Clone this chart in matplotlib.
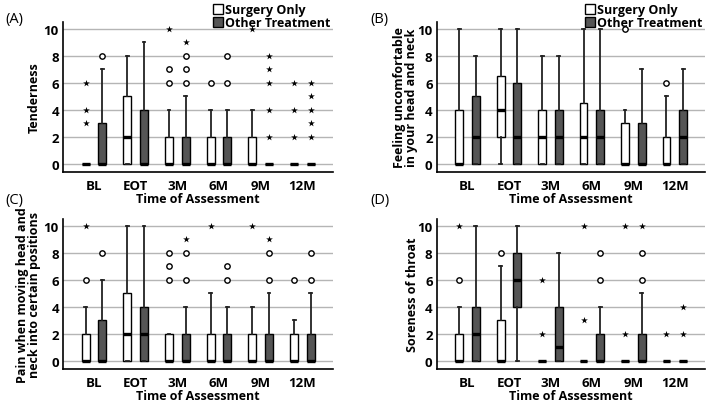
import matplotlib
matplotlib.use('Agg')
import matplotlib.pyplot as plt
from matplotlib.patches import Patch

plt.rcParams['font.family'] = ['Open Sans', 'DejaVu Sans']
plt.rcParams['font.weight'] = 'bold'

groups = ['BL', 'EOT', '3M', '6M', '9M', '12M']
yticks = [0, 2, 4, 6, 8, 10]

# box stats per group: (q1, median, q3, whisker low, whisker high)
a_surg = [(0, 0, 0, 0, 0), (0, 2, 5, 0, 8), (0, 0, 2, 0, 4), (0, 0, 2, 0, 4), (0, 0, 2, 0, 4), (0, 0, 0, 0, 0)]
a_other = [(0, 0, 3, 0, 7), (0, 0, 4, 0, 9), (0, 0, 2, 0, 5), (0, 0, 2, 0, 4), (0, 0, 0, 0, 0), (0, 0, 0, 0, 0)]
a_surg_circ = [[], [], [6, 7], [6], [], []]
a_surg_star = [[3, 4, 6], [], [10], [], [10], [2, 4, 6]]
a_other_circ = [[8], [], [6, 7, 8], [6, 8], [], []]
a_other_star = [[], [], [9], [], [2, 4, 6, 7, 8], [2, 3, 4, 5, 6]]

b_surg = [(0, 0, 4, 0, 10), (2, 4, 6.5, 0, 10), (0, 2, 4, 0, 8), (0, 2, 4.5, 0, 10), (0, 0, 3, 0, 4), (0, 0, 2, 0, 5)]
b_other = [(0, 2, 5, 0, 8), (0, 2, 6, 0, 10), (0, 2, 4, 0, 8), (0, 2, 4, 0, 10), (0, 0, 3, 0, 7), (0, 2, 4, 0, 7)]
b_surg_circ = [[], [], [], [], [10], [6]]
b_surg_star = [[], [], [], [], [], []]
b_other_circ = [[], [], [], [], [], []]
b_other_star = [[], [], [], [], [], []]

c_surg = [(0, 0, 2, 0, 4), (0, 2, 5, 0, 10), (0, 0, 2, 0, 2), (0, 0, 2, 0, 5), (0, 0, 2, 0, 4), (0, 0, 2, 0, 3)]
c_other = [(0, 0, 3, 0, 6), (0, 2, 4, 0, 10), (0, 0, 2, 0, 4), (0, 0, 2, 0, 4), (0, 0, 2, 0, 5), (0, 0, 2, 0, 5)]
c_surg_circ = [[6], [], [6, 7, 8], [], [], [6]]
c_surg_star = [[10], [], [], [10], [10], []]
c_other_circ = [[8], [], [6, 8], [6, 7], [6, 8], [6, 8]]
c_other_star = [[], [], [9], [], [9], []]

d_surg = [(0, 0, 2, 0, 4), (0, 0, 3, 0, 7), (0, 0, 0, 0, 0), (0, 0, 0, 0, 0), (0, 0, 0, 0, 0), (0, 0, 0, 0, 0)]
d_other = [(0, 2, 4, 0, 10), (4, 6, 8, 0, 10), (0, 1, 4, 0, 8), (0, 0, 2, 0, 4), (0, 0, 2, 0, 5), (0, 0, 0, 0, 0)]
d_surg_circ = [[6], [8], [], [], [], []]
d_surg_star = [[10], [], [2, 6], [3, 10], [2, 10], [2]]
d_other_circ = [[], [], [], [6, 8], [6, 8], []]
d_other_star = [[], [], [], [], [10], [2, 4]]

panels = [
    ('(A)', 'Tenderness', a_surg, a_other, a_surg_circ, a_surg_star, a_other_circ, a_other_star),
    ('(B)', 'Feeling uncomfortable\nin your head and neck', b_surg, b_other, b_surg_circ, b_surg_star, b_other_circ, b_other_star),
    ('(C)', 'Pain when moving head and\nneck into certain positions', c_surg, c_other, c_surg_circ, c_surg_star, c_other_circ, c_other_star),
    ('(D)', 'Soreness of throat', d_surg, d_other, d_surg_circ, d_surg_star, d_other_circ, d_other_star),
]

axes_rects = [
    [0.089, 0.570, 0.381, 0.373],
    [0.616, 0.570, 0.379, 0.373],
    [0.089, 0.080, 0.381, 0.373],
    [0.616, 0.080, 0.379, 0.373],
]
ylab_x = [0.057, 0.590, 0.058, 0.591]
letter_pos = [(0.007, 0.97), (0.522, 0.97), (0.007, 0.52), (0.522, 0.52)]

fill_surg = 'white'
fill_other = '#555555'
off = 0.2


def make_stats(rows):
    out = []
    for q1, med, q3, lo, hi in rows:
        out.append(dict(q1=q1, med=med, q3=q3, whislo=lo, whishi=hi, fliers=[]))
    return out


fig = plt.figure(figsize=(7.09, 4.02), dpi=100)

for k, (letter, ylab, surg, other, sc, ss, oc, os_) in enumerate(panels):
    ax = fig.add_axes(axes_rects[k])
    for rows, shift, fc in [(surg, -off, fill_surg), (other, off, fill_other)]:
        pos = [i + shift for i in range(len(groups))]
        ax.bxp(make_stats(rows), positions=pos, widths=0.19, patch_artist=True,
               showfliers=False,
               boxprops=dict(facecolor=fc, edgecolor='black', linewidth=1.0),
               medianprops=dict(color='black', linewidth=2.4),
               whiskerprops=dict(color='#222222', linewidth=1.3),
               capprops=dict(color='#222222', linewidth=1.3),
               capwidths=0.07)
    for circ, star, shift in [(sc, ss, -off), (oc, os_, off)]:
        for i in range(len(groups)):
            if circ[i]:
                ax.scatter([i + shift] * len(circ[i]), circ[i], s=15, marker='o',
                           facecolors='white', edgecolors='black', linewidths=1.0, zorder=4)
            if star[i]:
                ax.scatter([i + shift] * len(star[i]), star[i], s=26, marker='*',
                           color='black', linewidths=0, zorder=4)
    ax.set_xlim(-0.74, 5.74)
    ax.set_ylim(-0.6, 10.5)
    ax.set_yticks(yticks)
    ax.set_xticks(range(len(groups)))
    ax.set_xticklabels(groups)
    ax.yaxis.grid(True, color='#b5b5b5', linewidth=1.0)
    ax.set_axisbelow(True)
    ax.spines['top'].set_visible(False)
    ax.spines['right'].set_visible(False)
    ax.spines['left'].set_linewidth(1.2)
    ax.spines['bottom'].set_linewidth(1.2)
    ax.tick_params(axis='both', length=0, labelsize=9.5, pad=3)
    ax.tick_params(axis='x', pad=5)
    ax.set_xlabel('Time of Assessment', fontsize=9, fontweight='bold', labelpad=0)
    ax.set_ylabel(ylab, fontsize=9, fontweight='bold', linespacing=0.95)
    ax.yaxis.set_label_coords(ylab_x[k], axes_rects[k][1] + axes_rects[k][3] / 2,
                              transform=fig.transFigure)
    fig.text(letter_pos[k][0], letter_pos[k][1], letter, fontsize=10.5, va='top', ha='left',
             fontweight='normal')
    if k < 2:
        handles = [Patch(facecolor=fill_surg, edgecolor='black', label='Surgery Only'),
                   Patch(facecolor=fill_other, edgecolor='black', label='Other Treatment')]
        ax.legend(handles=handles, loc='lower right', bbox_to_anchor=(0.99, 0.95),
                  frameon=False, handlelength=0.8, handleheight=0.9,
                  handletextpad=0.2, labelspacing=0.0, borderpad=0, borderaxespad=0,
                  prop=dict(weight='bold', size=9))

fig.savefig('out.png', dpi=100)
